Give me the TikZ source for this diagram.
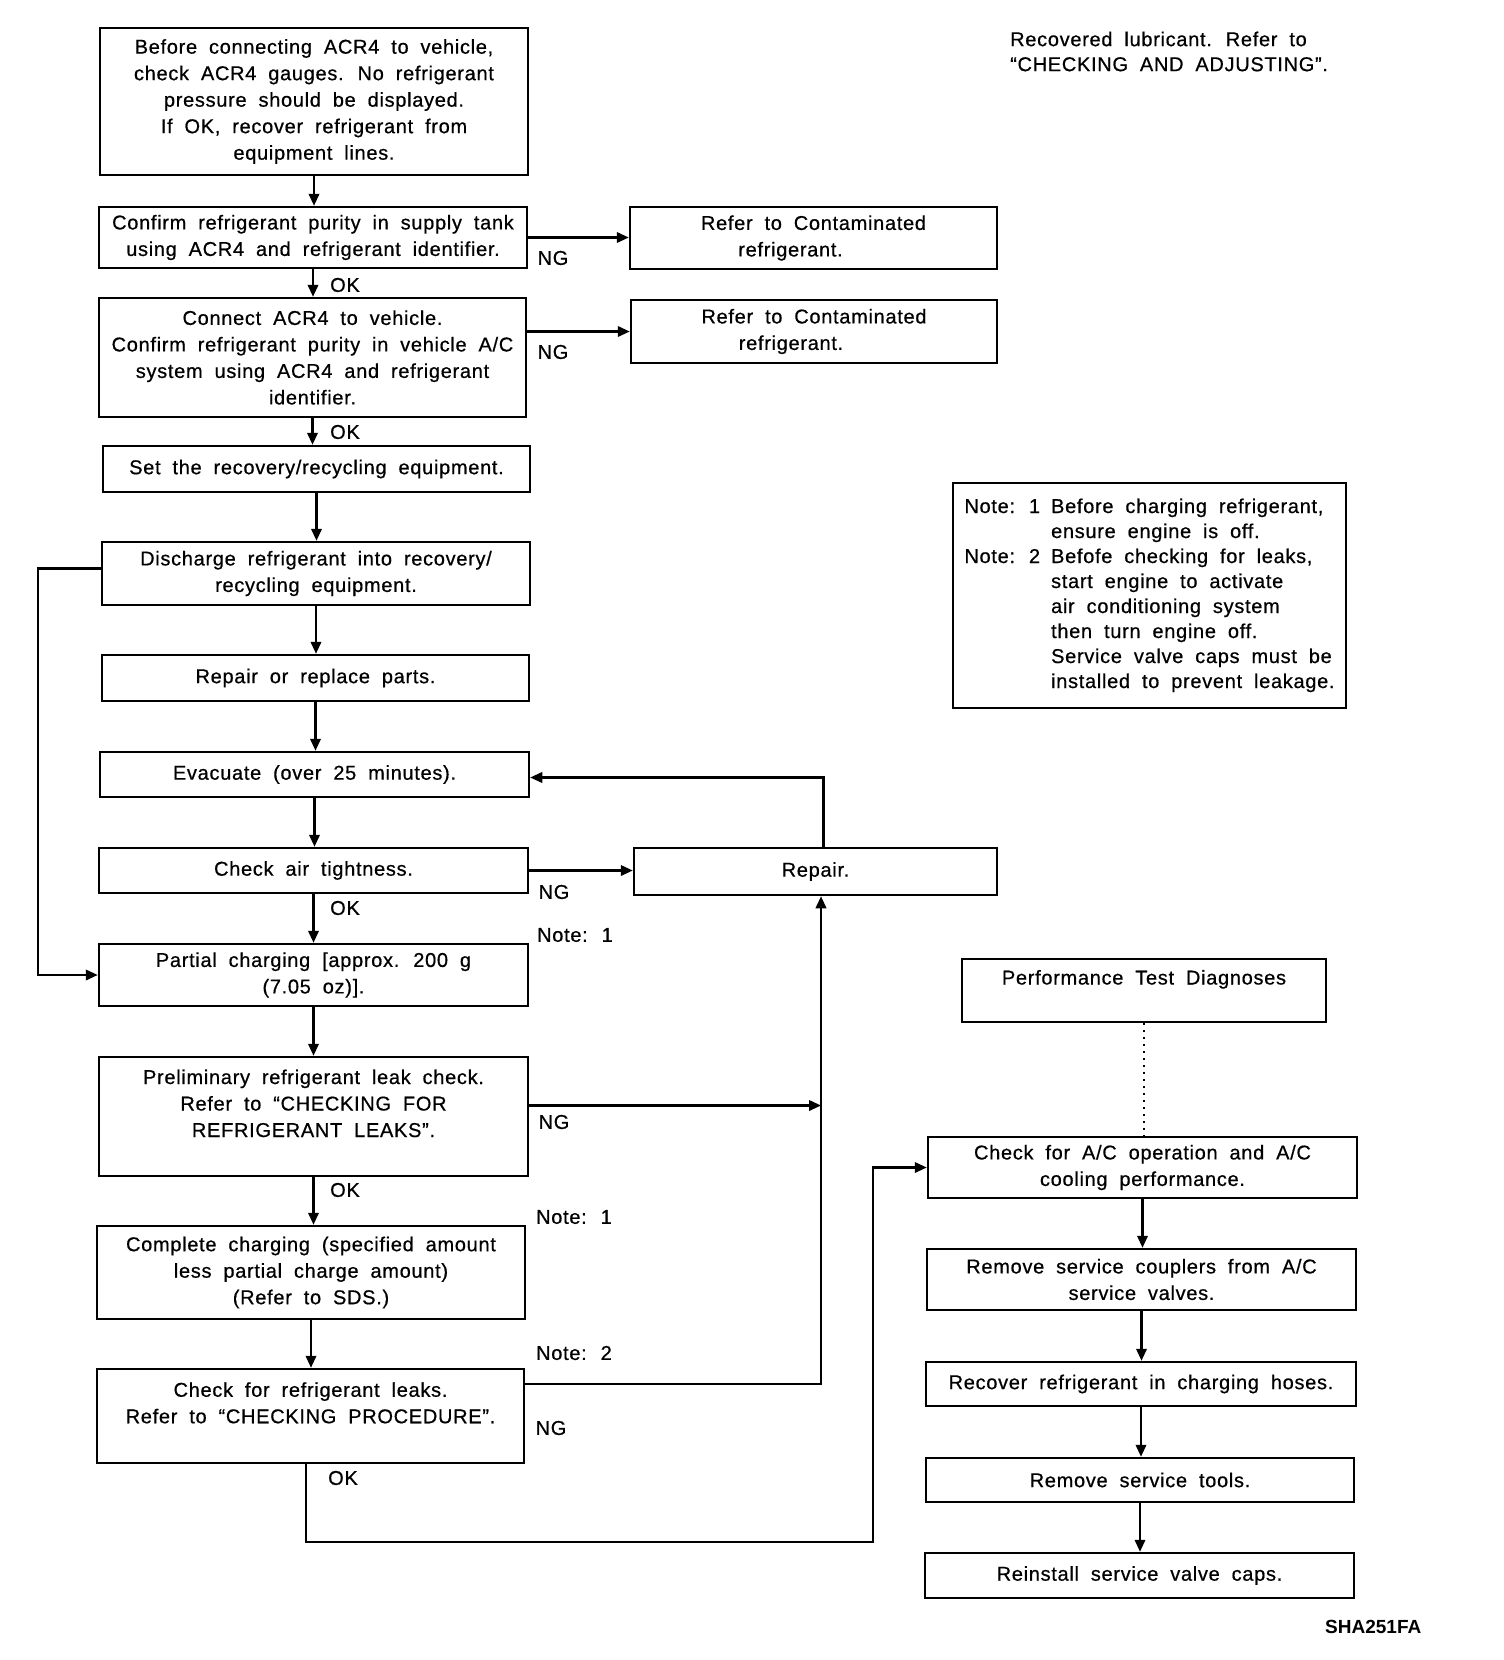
\documentclass[tikz,border=0pt]{standalone}
\usepackage{fontspec}
\setmainfont{Liberation Sans}[LetterSpace=3.5,WordSpace=1.9,FakeBold=0.6]
\newfontfamily\codefont{Liberation Sans}
\usetikzlibrary{arrows.meta,calc}
\tikzset{
  box/.style={draw, line width=2.5pt, rectangle, inner sep=0pt, align=center,
    font=\fontsize{20}{26.5}\selectfont},
  conn/.style={line width=2.2pt, -{Triangle[length=12pt,width=10.5pt]}},
  lbl/.style={font=\fontsize{20}{24}\selectfont, inner sep=0pt},
}
\begin{document}
\begin{tikzpicture}[x=1pt,y=-1pt]
\useasboundingbox[fill=white] (0,0) rectangle (1504,1660);

% left column
\node[box, minimum width=428pt, minimum height=147pt] (b1) at (314,101.5)
  {Before connecting ACR4 to vehicle,\\check ACR4 gauges. No refrigerant\\pressure should be displayed.\\If OK, recover refrigerant from\\equipment lines.};
\node[box, minimum width=428pt, minimum height=61pt] (b2) at (313,237.5)
  {Confirm refrigerant purity in supply tank\\using ACR4 and refrigerant identifier.};
\node[box, minimum width=367pt, minimum height=62pt] (r1) at (813.5,238)
  {Refer to Contaminated\\refrigerant.\hspace*{46pt}};
\node[box, minimum width=427pt, minimum height=119pt] (b3) at (312.5,357.5)
  {Connect ACR4 to vehicle.\\Confirm refrigerant purity in vehicle A/C\\system using ACR4 and refrigerant\\identifier.};
\node[box, minimum width=366pt, minimum height=63pt] (r2) at (814,331.5)
  {Refer to Contaminated\\refrigerant.\hspace*{46pt}};
\node[box, minimum width=427pt, minimum height=46pt] (b4) at (316.5,469)
  {Set the recovery/recycling equipment.};
\node[box, minimum width=428pt, minimum height=63pt] (b5) at (316,573.5)
  {Discharge refrigerant into recovery/\\recycling equipment.};
\node[box, minimum width=427pt, minimum height=46pt] (b6) at (315.5,678)
  {Repair or replace parts.};
\node[box, minimum width=429pt, minimum height=45pt] (b7) at (314.5,774.5)
  {Evacuate (over 25 minutes).};
\node[box, minimum width=429pt, minimum height=45pt] (b8) at (313.5,870.5)
  {Check air tightness.};
\node[box, minimum width=363pt, minimum height=47pt] (repair) at (815.5,871.5)
  {Repair.};
\node[box, minimum width=429pt, minimum height=62pt] (b9) at (313.5,975)
  {Partial charging [approx. 200 g\\(7.05 oz)].};
\node[box, minimum width=429pt, minimum height=119pt] (b10) at (313.5,1116.5)
  {Preliminary refrigerant leak check.\\Refer to “CHECKING FOR\\REFRIGERANT LEAKS”.\\\mbox{}};
\node[box, minimum width=428pt, minimum height=93pt] (b11) at (311,1272.5)
  {Complete charging (specified amount\\less partial charge amount)\\(Refer to SDS.)};
\node[box, minimum width=427pt, minimum height=94pt] (b12) at (310.5,1416)
  {Check for refrigerant leaks.\\Refer to “CHECKING PROCEDURE”.\\\mbox{}};

% right column
\node[box, minimum width=364pt, minimum height=63pt] (ptd) at (1144,990.5)
  {Performance Test Diagnoses\\\mbox{}};
\node[box, minimum width=429pt, minimum height=61pt] (c1) at (1142.5,1167.5)
  {Check for A/C operation and A/C\\cooling performance.};
\node[box, minimum width=429pt, minimum height=61pt] (c2) at (1141.5,1279.5)
  {Remove service couplers from A/C\\service valves.};
\node[box, minimum width=430pt, minimum height=44pt] (c3) at (1141,1384)
  {Recover refrigerant in charging hoses.};
\node[box, minimum width=428pt, minimum height=44pt] (c4) at (1140,1480)
  {Remove service tools.};
\node[box, minimum width=429pt, minimum height=45pt] (c5) at (1139.5,1575.5)
  {Reinstall service valve caps.};

% notes box
\node[box, minimum width=393pt, minimum height=225pt] (notes) at (1149.5,595.5)
  {\fontsize{20}{25}\selectfont
   \begin{tabular}{@{}l@{\hspace{11pt}}l@{}}
   Note: 1 & Before charging refrigerant,\\
           & ensure engine is off.\\
   Note: 2 & Befofe checking for leaks,\\
           & start engine to activate\\
           & air conditioning system\\
           & then turn engine off.\\
           & Service valve caps must be\\
           & installed to prevent leakage.
   \end{tabular}};

% top-right text and figure code
\node[lbl, align=left, anchor=west, font=\fontsize{20}{25}\selectfont] (rec) at (1010,51.5)
  {Recovered lubricant. Refer to\\“CHECKING AND ADJUSTING”.};
\node[inner sep=0pt, anchor=west, font=\codefont\bfseries\fontsize{19}{22}\selectfont] (code) at (1325,1627) {SHA251FA};

% vertical flow, left column
\draw[conn] (b1.south) -- (b1.south |- b2.north);
\draw[conn] (b2.south) -- (b2.south |- b3.north);
\draw[conn] (b3.south) -- (b3.south |- b4.north);
\draw[conn] (b4.south) -- (b4.south |- b5.north);
\draw[conn] (b5.south) -- (b5.south |- b6.north);
\draw[conn] (b6.south) -- (b6.south |- b7.north);
\draw[conn] (b7.south) -- (b7.south |- b8.north);
\draw[conn] (b8.south) -- (b8.south |- b9.north);
\draw[conn] (b9.south) -- (b9.south |- b10.north);
\draw[conn] (b10.south) -- (b10.south |- b11.north);
\draw[conn] (b11.south) -- (b11.south |- b12.north);

% NG branches
\draw[conn] (b2.east) -- (b2.east -| r1.west);
\draw[conn] (r2.west -| b3.east) -- (r2.west);
\draw[conn] (b8.east) -- (b8.east -| repair.west);
\draw[conn] ([xshift=8pt]repair.north) |- ([yshift=-3pt]b7.east);

\coordinate (lx) at (38,0);
\draw[conn] ([yshift=5pt]b5.west) -- ([yshift=5pt]b5.west -| lx) |- (b9.west);

\coordinate (vx) at (821,0);
\draw[conn] ([yshift=11pt]b10.east) -- ([yshift=11pt]b10.east -| vx);
\draw[conn] ([yshift=32pt]b12.east) -| ([xshift=5.5pt]repair.south);

\coordinate (okc) at (873,1542);
\draw[conn] ([xshift=-4.5pt]b12.south) |- (okc) |- (c1.west);

% right column flow
\draw[line width=1.8pt, dash pattern=on 2pt off 5pt] (ptd.south) -- (ptd.south |- c1.north);
\draw[conn] (c1.south) -- (c1.south |- c2.north);
\draw[conn] (c2.south) -- (c2.south |- c3.north);
\draw[conn] (c3.south) -- (c3.south |- c4.north);
\draw[conn] (c4.south) -- (c4.south |- c5.north);

% labels
\node[lbl] (ok1) at (345,285) {OK};
\node[lbl] (ok2) at (345,432) {OK};
\node[lbl] (ok3) at (345,908) {OK};
\node[lbl] (ok4) at (345,1190) {OK};
\node[lbl] (ok5) at (343,1478) {OK};
\node[lbl] (ng1) at (553,258) {NG};
\node[lbl] (ng2) at (553,352) {NG};
\node[lbl] (ng3) at (554,892) {NG};
\node[lbl] (ng4) at (554,1122) {NG};
\node[lbl] (ng5) at (551,1428) {NG};
\node[lbl] (n1) at (575,935) {Note: 1};
\node[lbl] (n2) at (574,1217) {Note: 1};
\node[lbl] (n3) at (574,1353) {Note: 2};
\end{tikzpicture}
\end{document}
